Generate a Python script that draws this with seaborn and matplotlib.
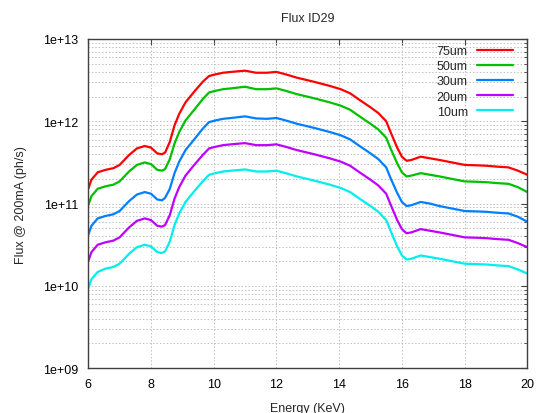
import numpy as np
import pandas as pd
import matplotlib
matplotlib.use("Agg")
import matplotlib.pyplot as plt
import matplotlib.ticker as mticker
import seaborn as sns

# Flux vs energy for ID29 (log10 of ph/s)
energy = [6.0, 6.1, 6.3, 6.55, 6.8, 7.0, 7.3, 7.55, 7.8, 8.0, 8.2, 8.35, 8.45, 8.6,
          8.75, 8.9, 9.1, 9.4, 9.65, 9.85, 10.05, 10.3, 10.55, 11.0, 11.35, 11.7,
          12.0, 12.3, 12.65, 13.2, 13.7, 14.05, 14.35, 14.65, 15.0, 15.25, 15.5,
          15.65, 15.85, 16.0, 16.15, 16.3, 16.6, 16.9, 17.2, 17.6, 18.0, 18.4, 18.7,
          19.0, 19.4, 19.7, 20.0]

log_flux_75 = [11.18, 11.29, 11.38, 11.41, 11.43, 11.47, 11.59, 11.67, 11.70, 11.68,
               11.61, 11.60, 11.62, 11.75, 11.95, 12.09, 12.23, 12.37, 12.48, 12.55,
               12.57, 12.59, 12.60, 12.615, 12.59, 12.59, 12.60, 12.57, 12.53, 12.48,
               12.43, 12.39, 12.34, 12.26, 12.17, 12.10, 12.00, 11.86, 11.68, 11.57,
               11.52, 11.53, 11.57, 11.55, 11.53, 11.50, 11.47, 11.465, 11.46, 11.45,
               11.44, 11.40, 11.35]
log_flux_50 = [10.98, 11.09, 11.18, 11.21, 11.23, 11.27, 11.39, 11.47, 11.50, 11.48,
               11.41, 11.40, 11.42, 11.54, 11.73, 11.87, 12.01, 12.15, 12.27, 12.35,
               12.37, 12.39, 12.40, 12.42, 12.39, 12.39, 12.40, 12.37, 12.33, 12.28,
               12.23, 12.19, 12.14, 12.06, 11.97, 11.90, 11.80, 11.66, 11.49, 11.38,
               11.33, 11.34, 11.37, 11.35, 11.33, 11.30, 11.27, 11.265, 11.26, 11.25,
               11.24, 11.20, 11.14]
log_flux_30 = [10.62, 10.73, 10.82, 10.85, 10.87, 10.91, 11.03, 11.11, 11.14, 11.12,
               11.05, 11.04, 11.07, 11.18, 11.37, 11.51, 11.65, 11.79, 11.91, 11.99,
               12.01, 12.03, 12.04, 12.06, 12.035, 12.03, 12.04, 12.01, 11.97, 11.92,
               11.87, 11.83, 11.78, 11.70, 11.61, 11.54, 11.44, 11.30, 11.13, 11.02,
               10.97, 10.98, 11.02, 11.00, 10.97, 10.94, 10.91, 10.905, 10.90, 10.89,
               10.88, 10.84, 10.78]
log_flux_20 = [10.30, 10.41, 10.50, 10.53, 10.55, 10.59, 10.71, 10.79, 10.82, 10.80,
               10.73, 10.72, 10.74, 10.86, 11.06, 11.20, 11.34, 11.48, 11.59, 11.67,
               11.69, 11.71, 11.72, 11.735, 11.71, 11.71, 11.72, 11.69, 11.65, 11.60,
               11.55, 11.51, 11.46, 11.38, 11.29, 11.22, 11.12, 10.98, 10.80, 10.69,
               10.64, 10.65, 10.69, 10.67, 10.65, 10.62, 10.59, 10.585, 10.58, 10.57,
               10.56, 10.52, 10.47]
log_flux_10 = [9.97, 10.08, 10.17, 10.21, 10.23, 10.27, 10.39, 10.47, 10.50, 10.48,
               10.41, 10.40, 10.42, 10.54, 10.74, 10.88, 11.02, 11.16, 11.27, 11.35,
               11.37, 11.39, 11.40, 11.415, 11.39, 11.39, 11.40, 11.37, 11.33, 11.28,
               11.23, 11.19, 11.14, 11.06, 10.97, 10.90, 10.80, 10.66, 10.48, 10.37,
               10.32, 10.33, 10.37, 10.35, 10.33, 10.30, 10.27, 10.265, 10.26, 10.25,
               10.24, 10.20, 10.15]

labels = ["75um", "50um", "30um", "20um", "10um"]
colors = ["#ff0000", "#00c000", "#0080ff", "#c000ff", "#00eeee"]

# long table for seaborn
frames = []
for lab, vals in zip(labels, [log_flux_75, log_flux_50, log_flux_30, log_flux_20, log_flux_10]):
    frames.append(pd.DataFrame({"energy": energy, "flux": 10 ** np.array(vals), "filter": lab}))
df = pd.concat(frames, ignore_index=True)

sns.set_style("white")
plt.rcParams['font.family'] = ['Liberation Sans', 'DejaVu Sans']

fig = plt.figure(figsize=(5.36, 4.14), dpi=100)
ax = fig.add_axes([0.1647, 0.1082, 0.9838 - 0.1647, 0.9034 - 0.1082])

sns.lineplot(data=df, x="energy", y="flux", hue="filter", hue_order=labels,
             palette=colors, linewidth=1.6, ax=ax, sort=False, estimator=None)

ax.set_yscale("log")
ax.set_xlim(6, 20)
ax.set_ylim(1e9, 1e13)
ax.set_xticks(range(6, 21, 2))
ax.yaxis.set_major_locator(mticker.LogLocator(base=10, numticks=10))
ax.yaxis.set_minor_locator(mticker.LogLocator(base=10, subs=np.arange(2, 10), numticks=20))
ax.yaxis.set_minor_formatter(mticker.NullFormatter())
ax.yaxis.set_major_formatter(mticker.FuncFormatter(lambda v, p: "1e+%02d" % round(np.log10(v))))

ax.grid(True, which="major", color="#c0c0c0", linestyle=(0, (1.5, 2)), linewidth=0.7)
ax.grid(True, which="minor", axis="y", color="#c0c0c0", linestyle=(0, (1.5, 2)), linewidth=0.7)

for s in ax.spines.values():
    s.set_color("#404040")
    s.set_linewidth(1.0)
ax.tick_params(which="both", direction="in", top=True, right=True, colors="#404040",
               labelcolor="black", labelsize=9)
ax.tick_params(which="major", length=4, pad=7)
ax.tick_params(which="minor", length=2)

ax.set_title("Flux ID29", fontsize=9, pad=13)
ax.set_xlabel("Energy (KeV)", fontsize=9, labelpad=9)
ax.set_ylabel("Flux @ 200mA (ph/s)", fontsize=9, labelpad=12)

leg = ax.legend(loc="upper right", bbox_to_anchor=(0.9674, 0.981), frameon=False,
                markerfirst=False, fontsize=9, handlelength=2.9, handletextpad=0.72,
                labelspacing=0.25, borderaxespad=0, borderpad=0)
for line in leg.get_lines():
    line.set_linewidth(1.6)

fig.savefig("out.png", dpi=100)
